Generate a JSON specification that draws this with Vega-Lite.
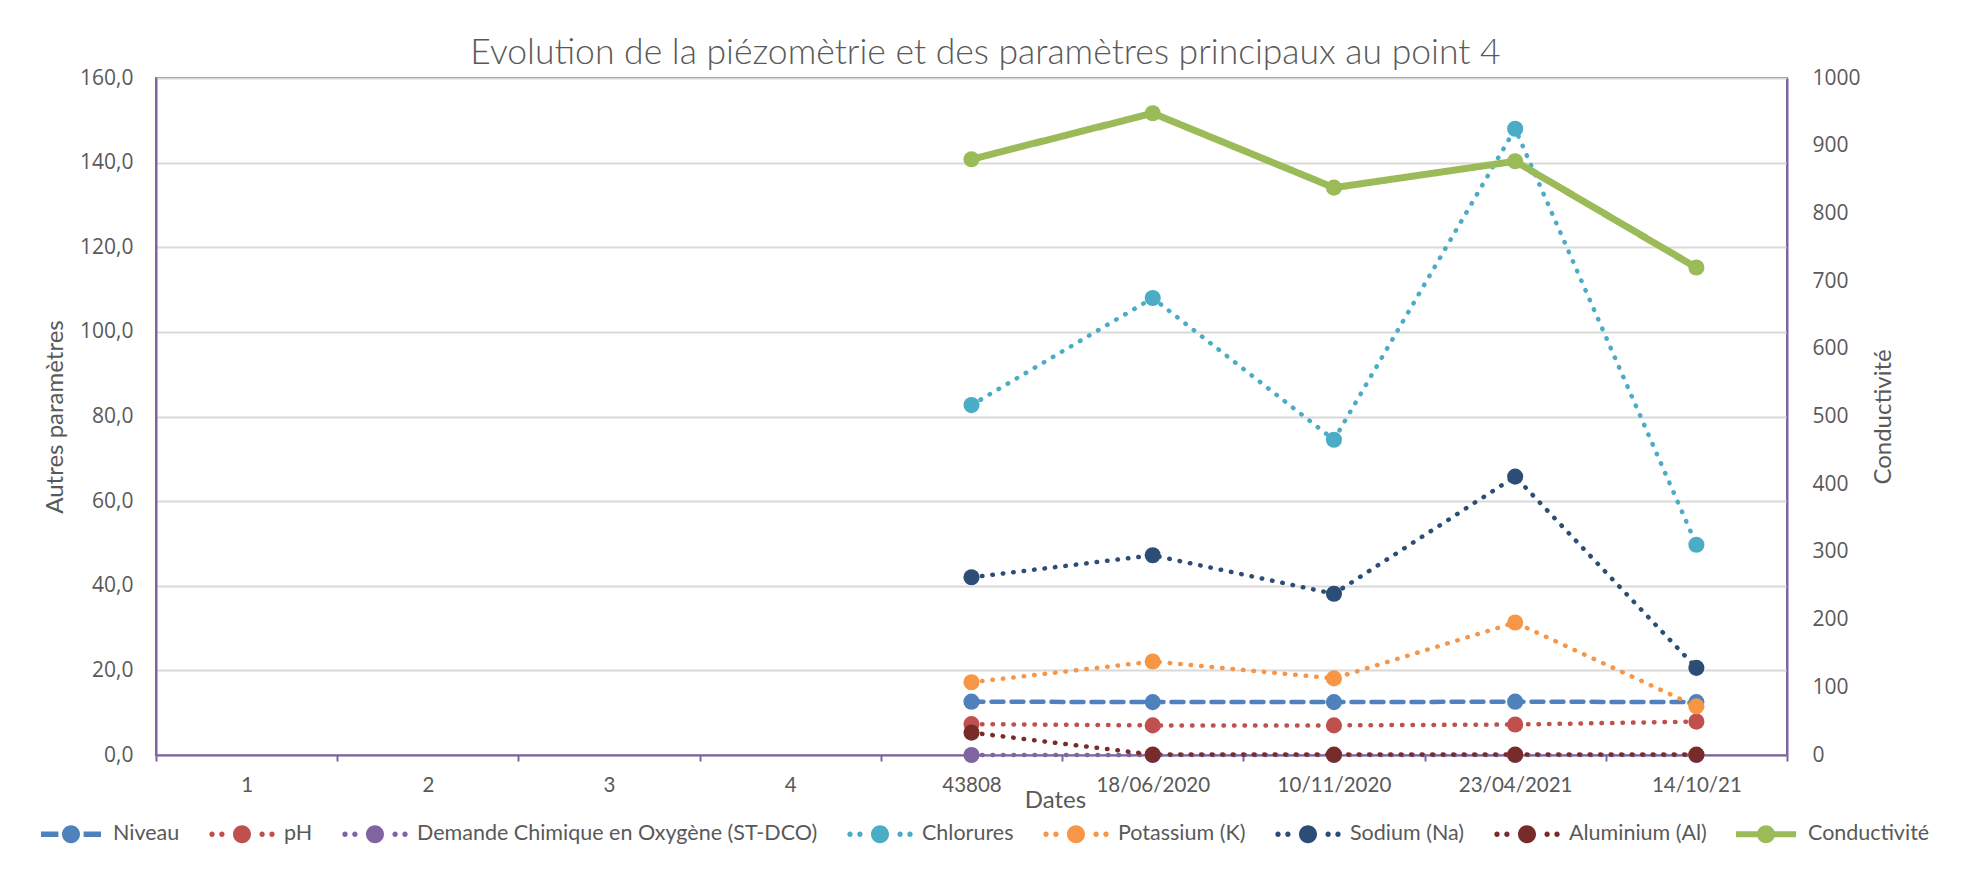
{
  "$schema": "https://vega.github.io/schema/vega-lite/v6.json",
  "width": 1631,
  "height": 677,
  "autosize": {"type": "none"},
  "padding": {"left": 156, "top": 78, "right": 180, "bottom": 115},
  "background": "white",
  "title": {
    "text": "Evolution de la piézomètrie et des paramètres principaux au point  4",
    "font": "Lato",
    "fontSize": 35.5,
    "fontWeight": 300,
    "color": "#595959",
    "anchor": "middle",
    "offset": -4,
    "dx": 14
  },
  "config": {
    "view": {"stroke": "#8064A2", "strokeWidth": 2},
    "axis": {
      "labelFont": "Open Sans",
      "labelFontSize": 21,
      "labelColor": "#595959",
      "titleFont": "Lato",
      "titleFontSize": 24,
      "titleFontWeight": "normal",
      "titleColor": "#595959"
    },
    "legend": {
      "title": null,
      "orient": "none",
      "legendX": -115,
      "legendY": 726,
      "direction": "horizontal",
      "columns": 8,
      "columnPadding": 29,
      "labelOffset": 12,
      "symbolSize": 3600,
      "labelFont": "Lato",
      "labelFontSize": 21.5,
      "labelColor": "#595959",
      "labelLimit": 600
    }
  },
  "data": {
    "values": [
      {"date": "43808", "serie": "Niveau", "value": 12.6},
      {"date": "18/06/2020", "serie": "Niveau", "value": 12.5},
      {"date": "10/11/2020", "serie": "Niveau", "value": 12.5},
      {"date": "23/04/2021", "serie": "Niveau", "value": 12.6},
      {"date": "14/10/21", "serie": "Niveau", "value": 12.5},
      {"date": "43808", "serie": "pH", "value": 7.3},
      {"date": "18/06/2020", "serie": "pH", "value": 7.0},
      {"date": "10/11/2020", "serie": "pH", "value": 7.0},
      {"date": "23/04/2021", "serie": "pH", "value": 7.2},
      {"date": "14/10/21", "serie": "pH", "value": 7.9},
      {"date": "43808", "serie": "Demande Chimique en Oxygène (ST-DCO)", "value": 0},
      {"date": "18/06/2020", "serie": "Demande Chimique en Oxygène (ST-DCO)", "value": 0},
      {"date": "10/11/2020", "serie": "Demande Chimique en Oxygène (ST-DCO)", "value": 0},
      {"date": "23/04/2021", "serie": "Demande Chimique en Oxygène (ST-DCO)", "value": 0},
      {"date": "14/10/21", "serie": "Demande Chimique en Oxygène (ST-DCO)", "value": 0},
      {"date": "43808", "serie": "Chlorures", "value": 82.7},
      {"date": "18/06/2020", "serie": "Chlorures", "value": 108.0},
      {"date": "10/11/2020", "serie": "Chlorures", "value": 74.5},
      {"date": "23/04/2021", "serie": "Chlorures", "value": 148.0},
      {"date": "14/10/21", "serie": "Chlorures", "value": 49.7},
      {"date": "43808", "serie": "Potassium (K)", "value": 17.2},
      {"date": "18/06/2020", "serie": "Potassium (K)", "value": 22.1},
      {"date": "10/11/2020", "serie": "Potassium (K)", "value": 18.1},
      {"date": "23/04/2021", "serie": "Potassium (K)", "value": 31.3},
      {"date": "14/10/21", "serie": "Potassium (K)", "value": 11.5},
      {"date": "43808", "serie": "Sodium (Na)", "value": 42.0},
      {"date": "18/06/2020", "serie": "Sodium (Na)", "value": 47.2},
      {"date": "10/11/2020", "serie": "Sodium (Na)", "value": 38.1},
      {"date": "23/04/2021", "serie": "Sodium (Na)", "value": 65.8},
      {"date": "14/10/21", "serie": "Sodium (Na)", "value": 20.6},
      {"date": "43808", "serie": "Aluminium (Al)", "value": 5.3},
      {"date": "18/06/2020", "serie": "Aluminium (Al)", "value": 0.1},
      {"date": "10/11/2020", "serie": "Aluminium (Al)", "value": 0.1},
      {"date": "23/04/2021", "serie": "Aluminium (Al)", "value": 0.1},
      {"date": "14/10/21", "serie": "Aluminium (Al)", "value": 0.1},
      {"date": "43808", "serie": "Conductivité", "value": 880},
      {"date": "18/06/2020", "serie": "Conductivité", "value": 948},
      {"date": "10/11/2020", "serie": "Conductivité", "value": 838},
      {"date": "23/04/2021", "serie": "Conductivité", "value": 877},
      {"date": "14/10/21", "serie": "Conductivité", "value": 720}
    ]
  },
  "encoding": {
    "x": {
      "field": "date",
      "type": "nominal",
      "sort": null,
      "scale": {"domain": ["1", "2", "3", "4", "43808", "18/06/2020", "10/11/2020", "23/04/2021", "14/10/21"], "paddingInner": 0, "paddingOuter": 0},
      "axis": {
        "title": "Dates",
        "titleX": 899,
        "labelAngle": 0,
        "labelFont": "Lato",
        "labelFontSize": 20.5,
        "ticks": true,
        "tickBand": "extent",
        "tickSize": 6,
        "tickColor": "#8064A2",
        "tickWidth": 2,
        "domainColor": "#8064A2",
        "domainWidth": 2,
        "labelPadding": 14,
        "titlePadding": -7,
        "grid": false
      }
    },
    "color": {
      "field": "serie",
      "type": "nominal",
      "scale": {
        "domain": ["Niveau", "pH", "Demande Chimique en Oxygène (ST-DCO)", "Chlorures", "Potassium (K)", "Sodium (Na)", "Aluminium (Al)", "Conductivité"],
        "range": ["#4F81BD", "#C0504D", "#8064A2", "#4BACC6", "#F79646", "#2C4D75", "#772C2A", "#9BBB59"]
      },
      "legend": {
        "encode": {"symbols": {"update": {
          "shape": {"signal": "datum.value === 'Niveau' ? 'M-1,-0.09L-0.42,-0.09L-0.42,0.09L-1,0.09Z M0.42,-0.09L1,-0.09L1,0.09L0.42,0.09Z M0.3,0A0.3,0.3,0,1,1,-0.3,0A0.3,0.3,0,1,1,0.3,0Z' : datum.value === 'Conductivité' ? 'M-1,-0.1L1,-0.1L1,0.1L-1,0.1Z M0.3,0A0.3,0.3,0,1,1,-0.3,0A0.3,0.3,0,1,1,0.3,0Z' : 'M-0.91,0A0.09,0.09,0,1,1,-1.09,0A0.09,0.09,0,1,1,-0.91,0Z M-0.58,0A0.09,0.09,0,1,1,-0.76,0A0.09,0.09,0,1,1,-0.58,0Z M0.76,0A0.09,0.09,0,1,1,0.58,0A0.09,0.09,0,1,1,0.76,0Z M1.09,0A0.09,0.09,0,1,1,0.91,0A0.09,0.09,0,1,1,1.09,0Z M0.3,0A0.3,0.3,0,1,1,-0.3,0A0.3,0.3,0,1,1,0.3,0Z'"},
          "fill": {"scale": "color", "field": "value"},
          "fillOpacity": {"value": 1},
          "strokeWidth": {"value": 0},
          "strokeDash": {"value": []}
        }}}
      }
    },
    "strokeDash": {
      "field": "serie",
      "type": "nominal",
      "scale": {
        "domain": ["Niveau", "pH", "Demande Chimique en Oxygène (ST-DCO)", "Chlorures", "Potassium (K)", "Sodium (Na)", "Aluminium (Al)", "Conductivité"],
        "range": [[12, 8], [0.5, 10], [0.5, 10], [0.5, 10], [0.5, 10], [0.5, 10], [0.5, 10], [1, 0]]
      },
      "legend": {
        "encode": {"symbols": {"update": {
          "shape": {"signal": "datum.value === 'Niveau' ? 'M-1,-0.09L-0.42,-0.09L-0.42,0.09L-1,0.09Z M0.42,-0.09L1,-0.09L1,0.09L0.42,0.09Z M0.3,0A0.3,0.3,0,1,1,-0.3,0A0.3,0.3,0,1,1,0.3,0Z' : datum.value === 'Conductivité' ? 'M-1,-0.1L1,-0.1L1,0.1L-1,0.1Z M0.3,0A0.3,0.3,0,1,1,-0.3,0A0.3,0.3,0,1,1,0.3,0Z' : 'M-0.91,0A0.09,0.09,0,1,1,-1.09,0A0.09,0.09,0,1,1,-0.91,0Z M-0.58,0A0.09,0.09,0,1,1,-0.76,0A0.09,0.09,0,1,1,-0.58,0Z M0.76,0A0.09,0.09,0,1,1,0.58,0A0.09,0.09,0,1,1,0.76,0Z M1.09,0A0.09,0.09,0,1,1,0.91,0A0.09,0.09,0,1,1,1.09,0Z M0.3,0A0.3,0.3,0,1,1,-0.3,0A0.3,0.3,0,1,1,0.3,0Z'"},
          "fill": {"scale": "color", "field": "value"},
          "fillOpacity": {"value": 1},
          "strokeWidth": {"value": 0},
          "strokeDash": {"value": []}
        }}}
      }
    }
  },
  "layer": [
    {
      "transform": [{"filter": "datum.serie !== 'Conductivité'"}],
      "mark": {"type": "line", "strokeWidth": 4.5, "strokeCap": "round", "point": {"filled": true, "size": 260, "opacity": 1}},
      "encoding": {
        "y": {
          "field": "value",
          "type": "quantitative",
          "scale": {"domain": [0, 160]},
          "axis": {
            "title": "Autres paramètres",
            "values": [0, 20, 40, 60, 80, 100, 120, 140, 160],
            "labelOverlap": false,
            "labelExpr": "replace(format(datum.value, '.1f'), '.', ',')",
            "ticks": false,
            "labelPadding": 23,
            "titlePadding": 12,
            "domainColor": "#8064A2",
            "domainWidth": 2,
            "grid": true,
            "gridColor": "#D9D9D9",
            "gridWidth": 2
          }
        }
      }
    },
    {
      "transform": [{"filter": "datum.serie === 'Conductivité'"}],
      "mark": {"type": "line", "strokeWidth": 7, "point": {"filled": true, "size": 260, "opacity": 1}},
      "encoding": {
        "y": {
          "field": "value",
          "type": "quantitative",
          "scale": {"domain": [0, 1000]},
          "axis": {
            "title": "Conductivité",
            "titleAngle": 270,
            "orient": "right",
            "values": [0, 100, 200, 300, 400, 500, 600, 700, 800, 900, 1000],
            "labelOverlap": false,
            "format": "d",
            "ticks": false,
            "labelPadding": 25,
            "titlePadding": 35,
            "domainColor": "#8064A2",
            "domainWidth": 2,
            "grid": false
          }
        }
      }
    }
  ],
  "resolve": {"scale": {"y": "independent"}}
}
